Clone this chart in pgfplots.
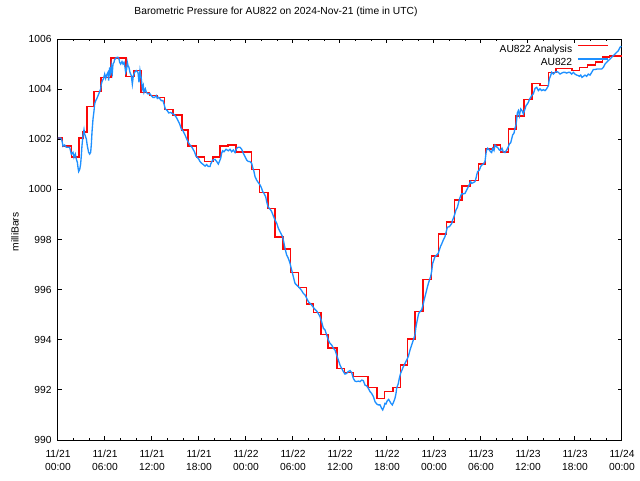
\documentclass[border=0pt]{standalone}
\usepackage{fontspec}
\setmainfont{Liberation Sans}
\usepackage{pgfplots}
\pgfplotsset{compat=1.18}
\definecolor{obsblue}{RGB}{30,144,255}
\definecolor{anared}{RGB}{250,8,8}
\begin{document}
\begin{tikzpicture}
\begin{axis}[
  scale only axis, width=423pt, height=300.75pt,
  at={(0pt,0pt)}, anchor=south west,
  xmin=0, xmax=72, ymin=990, ymax=1006,
  xtick={0,6,...,72},
  xticklabels={{11/21\\00:00},{11/21\\06:00},{11/21\\12:00},{11/21\\18:00},{11/22\\00:00},{11/22\\06:00},{11/22\\12:00},{11/22\\18:00},{11/23\\00:00},{11/23\\06:00},{11/23\\12:00},{11/23\\18:00},{11/24\\00:00}},
  minor x tick num=2,
  ytick={990,992,...,1006},
  tick align=inside,
  major tick length=3pt, minor tick length=1.6pt,
  axis line style={line width=0.75pt, black},
  every tick/.style={black, line width=0.75pt},
  /pgf/number format/assume math mode=true,
  /pgf/number format/1000 sep={},
  font=\fontsize{7.7}{9.4}\selectfont,
  xticklabel style={align=center, inner sep=0pt, anchor=north, yshift=-7.5pt, font=\fontsize{7.7}{9.4}\selectfont},
  yticklabel style={inner sep=0pt, anchor=east, xshift=-4.7pt, font=\fontsize{7.7}{9.4}\selectfont},
  title={Barometric Pressure for AU822 on 2024-Nov-21 (time in UTC)},
  title style={at={(axis description cs:0.3865,1.047)}, anchor=center, inner sep=0pt, font=\fontsize{7.7}{9.4}\selectfont},
  ylabel={milliBars},
  ylabel style={at={(axis description cs:-0.0762,0.519)}, anchor=center, inner sep=0pt, font=\fontsize{7.7}{9.4}\selectfont},
  legend style={draw=none, fill=none, at={(axis description cs:0.977,0.988)}, anchor=north east, inner sep=0pt, row sep=2.8pt, column sep=3.75pt, font=\fontsize{7.7}{9.4}\selectfont, nodes={inner sep=0pt, text height=6pt, text depth=1.5pt}},
  legend cell align=right,
  legend plot pos=right,
  legend image code/.code={\draw[#1] (0pt,2.7pt) -- (22.5pt,2.7pt);},
]
\addlegendimage{draw=anared, line width=1.2pt, opacity=1}
\addlegendentry{AU822 Analysis}
\addlegendimage{draw=obsblue, line width=1.1pt}
\addlegendentry{AU822}
\addplot[forget plot, const plot, draw=anared, line width=1.2pt, line cap=rect] coordinates {
(0,1002.06) (0.6,1001.72) (1.7,1001.28) (2.7,1002.05) (3.2,1002.28) (3.7,1003.31)
(4.6,1003.91) (5.5,1004.47) (6.8,1005.23) (8.7,1004.51) (9.7,1004.74) (10.6,1003.87)
(11.7,1003.74) (12.7,1003.67) (13.6,1003.18) (14.7,1002.97) (15.8,1002.38) (16.6,1001.74)
(17.7,1001.28) (18.7,1001.12) (19.8,1001.28) (20.7,1001.73) (21.7,1001.77) (22.7,1001.50)
(24.7,1000.80) (25.7,999.88) (26.8,999.24) (27.7,998.11) (28.7,997.62) (29.7,996.69)
(30.7,996.09) (31.7,995.43) (32.6,995.09) (33.6,994.21) (34.5,993.66) (35.6,992.86)
(36.6,992.69) (37.7,992.53) (39.6,992.10) (40.7,991.66) (41.7,991.94) (42.8,992.09)
(43.7,992.99) (44.6,994.02) (45.6,995.12) (46.6,996.41) (47.7,997.34) (48.6,998.21)
(49.6,998.69) (50.6,999.58) (51.6,1000.13) (52.6,1000.36) (53.7,1001.01) (54.6,1001.62)
(55.6,1001.77) (56.5,1001.48) (57.5,1002.40) (58.5,1002.92) (59.5,1003.58) (60.5,1004.23)
(61.5,1004.14) (62.6,1004.67) (63.6,1004.83) (65.6,1004.74) (66.6,1004.87) (67.6,1004.96)
(68.6,1005.09) (69.5,1005.27) (70.4,1005.33) (71.9,1005.33)
};
\addplot[forget plot, draw=obsblue, line width=1.0pt] coordinates {
(0,1002.05) (0.34,1002.05) (0.51,1001.94) (0.64,1001.72) (0.85,1001.77) (1.06,1001.68)
(1.49,1001.68) (1.70,1001.41) (1.91,1001.48) (2.04,1001.28) (2.21,1001.41) (2.34,1001.21)
(2.47,1001.08) (2.55,1000.88) (2.64,1000.71) (2.77,1000.79) (2.89,1001.01) (2.98,1001.35)
(3.06,1001.74) (3.19,1002.14) (3.32,1002.38) (3.40,1002.21) (3.62,1002.01) (3.74,1001.74)
(3.91,1001.48) (4.04,1001.41) (4.17,1001.48) (4.26,1001.81) (4.34,1002.28) (4.47,1002.81)
(4.60,1003.14) (4.68,1003.41) (4.81,1003.54) (4.94,1003.61) (5.11,1003.74) (5.32,1003.90)
(5.45,1004.01) (5.53,1004.20) (5.66,1004.34) (5.79,1004.40) (5.96,1004.60) (6.09,1004.43)
(6.21,1004.56) (6.38,1004.67) (6.47,1004.34) (6.60,1004.87) (6.72,1004.54) (6.81,1004.94)
(6.94,1004.67) (7.02,1005.00) (7.15,1005.07) (7.23,1005.18) (7.45,1005.26) (7.66,1005.27)
(7.79,1005.20) (7.87,1005.07) (8.00,1005.00) (8.17,1005.10) (8.30,1005.00) (8.43,1005.07)
(8.51,1004.96) (8.64,1004.67) (8.77,1004.80) (8.85,1005.07) (8.94,1004.94) (9.06,1004.87)
(9.19,1004.67) (9.36,1004.54) (9.49,1004.20) (9.62,1004.54) (9.79,1004.67) (10.00,1004.74)
(10.21,1004.67) (10.34,1004.27) (10.47,1004.74) (10.64,1004.40) (10.77,1004.01) (10.89,1004.14)
(10.98,1003.87) (11.15,1004.01) (11.28,1003.87) (11.49,1003.81) (11.70,1003.83) (11.91,1003.74)
(12.13,1003.67) (12.34,1003.67) (12.55,1003.74) (12.68,1003.63) (12.85,1003.67) (13.02,1003.61)
(13.19,1003.54) (13.40,1003.54) (13.53,1003.41) (13.70,1003.21) (13.96,1003.14) (14.13,1003.05)
(14.38,1003.07) (14.68,1003.01) (14.89,1002.97) (15.11,1002.87) (15.32,1002.74) (15.53,1002.61)
(15.74,1002.41) (15.96,1002.34) (16.09,1002.25) (16.26,1002.14) (16.43,1002.01) (16.68,1001.85)
(16.85,1001.77) (17.02,1001.72) (17.23,1001.61) (17.45,1001.48) (17.62,1001.32) (17.79,1001.28)
(17.96,1001.21) (18.13,1001.11) (18.34,1001.04) (18.55,1000.99) (18.77,1000.93) (18.98,1000.99)
(19.19,1000.91) (19.40,1000.91) (19.53,1001.04) (19.75,1001.17) (20.04,1001.20) (20.26,1001.11)
(20.47,1001.01) (20.60,1001.11) (20.77,1001.24) (20.89,1001.44) (21.02,1001.54) (21.19,1001.50)
(21.45,1001.60) (21.74,1001.54) (21.96,1001.60) (22.17,1001.50) (22.38,1001.57) (22.60,1001.47)
(22.81,1001.64) (23.02,1001.68) (23.23,1001.68) (23.45,1001.60) (23.66,1001.44) (23.87,1001.31)
(24.09,1001.17) (24.30,1001.11) (24.51,1001.11) (24.72,1001.04) (24.85,1000.88) (25.02,1000.71)
(25.15,1000.51) (25.36,1000.37) (25.57,1000.27) (25.79,1000.18) (26.00,1000.04) (26.13,999.91)
(26.30,999.84) (26.51,999.71) (26.64,999.51) (26.81,999.31) (26.98,999.24) (27.15,999.18)
(27.28,999.11) (27.49,998.94) (27.70,998.78) (27.92,998.65) (28.13,998.45) (28.34,998.31)
(28.55,998.18) (28.68,998.11) (28.85,997.85) (28.98,997.65) (29.19,997.38) (29.40,997.25)
(29.62,997.05) (29.83,996.78) (30.04,996.52) (30.26,996.25) (30.47,996.18) (30.68,996.12)
(30.89,996.05) (31.11,995.96) (31.32,995.85) (31.53,995.79) (31.75,995.65) (31.96,995.52)
(32.17,995.45) (32.38,995.39) (32.60,995.29) (32.81,995.21) (33.02,995.15) (33.23,995.05)
(33.45,994.92) (33.66,994.72) (33.87,994.46) (34.09,994.39) (34.30,994.19) (34.51,993.99)
(34.72,993.86) (34.94,993.79) (35.15,993.66) (35.36,993.59) (35.57,993.39) (35.79,993.19)
(36.00,992.99) (36.21,992.86) (36.43,992.73) (36.64,992.63) (36.85,992.66) (37.06,992.73)
(37.28,992.77) (37.49,992.69) (37.70,992.46) (37.91,992.35) (38.13,992.33) (38.34,992.35)
(38.55,992.33) (38.77,992.39) (38.98,992.37) (39.19,992.19) (39.40,992.16) (39.62,992.06)
(39.83,991.93) (40.04,991.86) (40.26,991.73) (40.47,991.53) (40.68,991.44) (40.89,991.40)
(41.11,991.40) (41.32,991.26) (41.45,991.20) (41.62,991.33) (41.74,991.46) (41.87,991.44)
(42.04,991.57) (42.21,991.62) (42.38,991.53) (42.51,991.46) (42.68,991.40) (42.81,991.49)
(43.02,991.66) (43.15,991.86) (43.23,992.06) (43.45,992.26) (43.57,992.46) (43.74,992.66)
(43.91,992.79) (44.09,992.93) (44.30,993.06) (44.51,993.19) (44.72,993.33) (44.94,993.59)
(45.15,993.79) (45.36,993.99) (45.57,994.19) (45.70,994.52) (45.87,994.79) (46.04,995.05)
(46.21,995.12) (46.43,995.19) (46.64,995.45) (46.85,995.72) (47.06,995.98) (47.28,996.25)
(47.49,996.45) (47.57,996.52) (47.70,996.72) (47.83,997.05) (47.91,997.12) (48.13,997.32)
(48.34,997.38) (48.55,997.45) (48.68,997.58) (48.85,997.74) (49.02,997.85) (49.19,997.98)
(49.40,998.11) (49.62,998.38) (49.70,998.49) (49.96,998.51) (50.13,998.58) (50.26,998.64)
(50.38,998.78) (50.55,998.91) (50.68,999.04) (50.81,999.18) (50.98,999.28) (51.11,999.44)
(51.23,999.58) (51.40,999.74) (51.53,999.82) (51.74,999.82) (51.96,999.84) (52.17,999.97)
(52.38,1000.11) (52.51,1000.20) (52.68,1000.31) (52.81,1000.24) (53.02,1000.27) (53.23,1000.31)
(53.36,1000.44) (53.45,1000.57) (53.57,1000.71) (53.79,1000.77) (53.96,1000.91) (54.09,1000.97)
(54.30,1001.01) (54.51,1001.11) (54.64,1001.44) (54.72,1001.57) (54.85,1001.64) (55.06,1001.57)
(55.23,1001.50) (55.36,1001.47) (55.49,1001.64) (55.66,1001.55) (55.79,1001.77) (56.00,1001.70)
(56.21,1001.64) (56.34,1001.57) (56.51,1001.55) (56.68,1001.64) (56.85,1001.50) (57.06,1001.47)
(57.28,1001.57) (57.49,1001.70) (57.62,1001.81) (57.79,1001.86) (58.04,1002.17) (58.21,1002.24)
(58.34,1002.44) (58.47,1002.57) (58.55,1002.77) (58.64,1003.05) (58.77,1003.14) (58.90,1002.94)
(59.07,1003.21) (59.24,1003.14) (59.41,1003.01) (59.62,1003.21) (59.75,1003.34) (59.92,1003.41)
(60.04,1003.47) (60.17,1003.58) (60.34,1003.67) (60.47,1003.74) (60.68,1003.81) (60.90,1004.03)
(61.11,1004.07) (61.32,1003.94) (61.53,1004.01) (61.75,1003.94) (61.96,1003.98) (62.17,1003.94)
(62.38,1004.01) (62.60,1004.14) (62.72,1004.40) (62.89,1004.54) (63.02,1004.67) (63.24,1004.60)
(63.45,1004.67) (63.66,1004.70) (63.87,1004.67) (64.09,1004.60) (64.30,1004.64) (64.51,1004.67)
(64.72,1004.67) (64.94,1004.64) (65.15,1004.67) (65.36,1004.67) (65.58,1004.60) (65.79,1004.67)
(66.00,1004.60) (66.21,1004.56) (66.43,1004.54) (66.56,1004.51) (66.73,1004.56) (66.89,1004.47)
(67.07,1004.51) (67.28,1004.56) (67.49,1004.51) (67.70,1004.60) (67.92,1004.56) (68.13,1004.67)
(68.34,1004.78) (68.55,1004.78) (68.77,1004.80) (68.98,1004.80) (69.19,1004.80) (69.41,1004.80)
(69.62,1004.87) (69.83,1005.00) (70.04,1005.07) (70.26,1005.14) (70.47,1005.20) (70.68,1005.27)
(70.90,1005.34) (71.11,1005.40) (71.32,1005.47) (71.53,1005.53) (71.75,1005.67) (71.92,1005.71)
};
\end{axis}
\pgfresetboundingbox
\useasboundingbox (-43.5pt,-30pt) rectangle (436.5pt,330pt);
\end{tikzpicture}
\end{document}
